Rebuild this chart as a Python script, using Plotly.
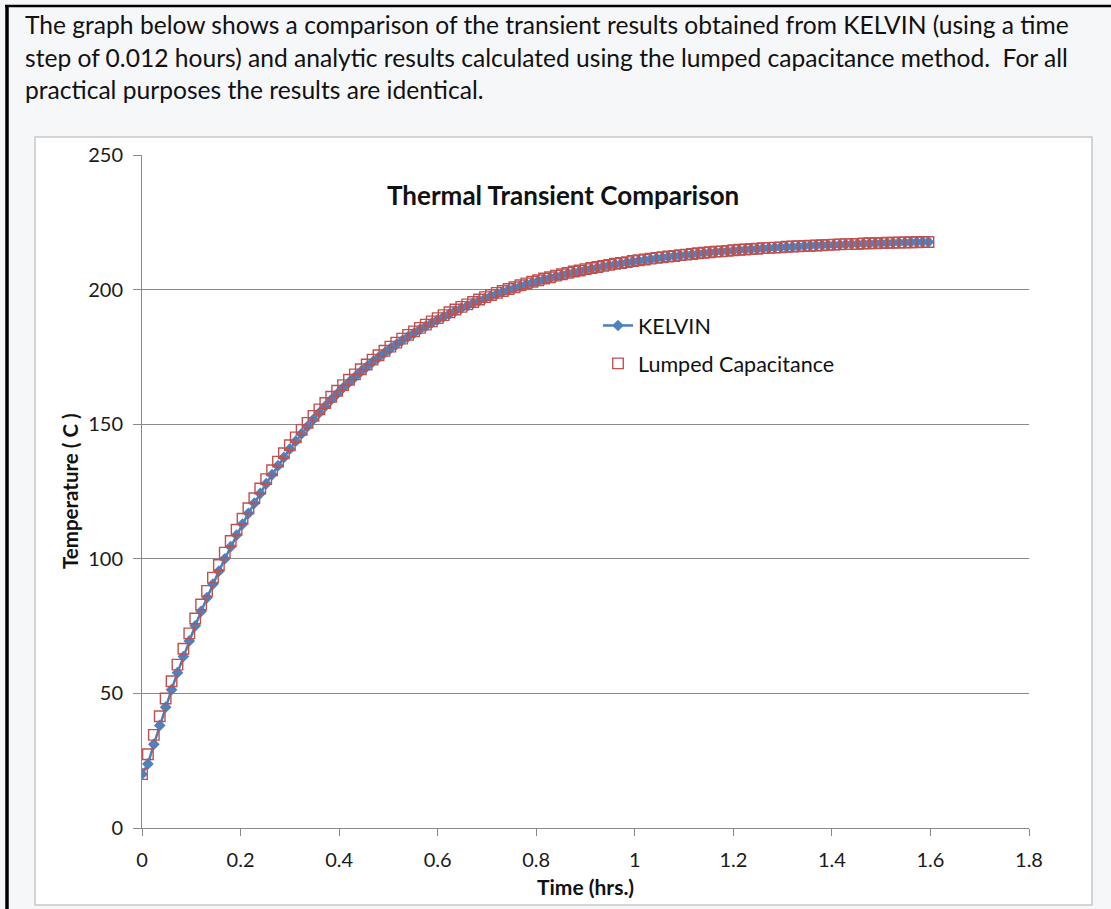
import plotly.graph_objects as go

# ---------------- data ----------------
time_hrs = [
    0.000, 0.012, 0.024, 0.036, 0.048, 0.060, 0.072, 0.084, 0.096, 0.108,
    0.120, 0.132, 0.144, 0.156, 0.168, 0.180, 0.192, 0.204, 0.216, 0.228,
    0.240, 0.252, 0.264, 0.276, 0.288, 0.300, 0.312, 0.324, 0.336, 0.348,
    0.360, 0.372, 0.384, 0.396, 0.408, 0.420, 0.432, 0.444, 0.456, 0.468,
    0.480, 0.492, 0.504, 0.516, 0.528, 0.540, 0.552, 0.564, 0.576, 0.588,
    0.600, 0.612, 0.624, 0.636, 0.648, 0.660, 0.672, 0.684, 0.696, 0.708,
    0.720, 0.732, 0.744, 0.756, 0.768, 0.780, 0.792, 0.804, 0.816, 0.828,
    0.840, 0.852, 0.864, 0.876, 0.888, 0.900, 0.912, 0.924, 0.936, 0.948,
    0.960, 0.972, 0.984, 0.996, 1.008, 1.020, 1.032, 1.044, 1.056, 1.068,
    1.080, 1.092, 1.104, 1.116, 1.128, 1.140, 1.152, 1.164, 1.176, 1.188,
    1.200, 1.212, 1.224, 1.236, 1.248, 1.260, 1.272, 1.284, 1.296, 1.308,
    1.320, 1.332, 1.344, 1.356, 1.368, 1.380, 1.392, 1.404, 1.416, 1.428,
    1.440, 1.452, 1.464, 1.476, 1.488, 1.500, 1.512, 1.524, 1.536, 1.548,
    1.560, 1.572, 1.584, 1.596,
]

kelvin_temp = [
    20.0, 23.8, 31.1, 38.1, 44.9, 51.4, 57.7, 63.7, 69.5, 75.1,
    80.5, 85.6, 90.6, 95.4, 100.0, 104.5, 108.8, 112.9, 116.9, 120.7,
    124.3, 127.9, 131.3, 134.6, 137.7, 140.8, 143.7, 146.5, 149.2, 151.8,
    154.3, 156.7, 159.1, 161.3, 163.5, 165.5, 167.5, 169.5, 171.3, 173.1,
    174.8, 176.5, 178.1, 179.6, 181.1, 182.5, 183.8, 185.2, 186.4, 187.6,
    188.8, 189.9, 191.0, 192.1, 193.1, 194.0, 195.0, 195.9, 196.7, 197.6,
    198.4, 199.2, 199.9, 200.6, 201.3, 202.0, 202.6, 203.2, 203.8, 204.4,
    204.9, 205.4, 206.0, 206.4, 206.9, 207.4, 207.8, 208.2, 208.6, 209.0,
    209.4, 209.7, 210.1, 210.4, 210.7, 211.0, 211.3, 211.6, 211.9, 212.2,
    212.4, 212.7, 212.9, 213.1, 213.4, 213.6, 213.8, 214.0, 214.2, 214.3,
    214.5, 214.7, 214.8, 215.0, 215.1, 215.3, 215.4, 215.6, 215.7, 215.8,
    215.9, 216.0, 216.2, 216.3, 216.4, 216.5, 216.6, 216.6, 216.7, 216.8,
    216.9, 217.0, 217.1, 217.1, 217.2, 217.3, 217.3, 217.4, 217.5, 217.5,
    217.6, 217.6, 217.7, 217.7,
]

lumped_temp = [
    20.0, 27.4, 34.6, 41.5, 48.1, 54.5, 60.7, 66.6, 72.3, 77.8,
    83.0, 88.1, 93.0, 97.7, 102.3, 106.6, 110.8, 114.9, 118.8, 122.5,
    126.1, 129.6, 132.9, 136.1, 139.2, 142.2, 145.1, 147.9, 150.5, 153.1,
    155.5, 157.9, 160.2, 162.4, 164.5, 166.5, 168.5, 170.4, 172.2, 174.0,
    175.6, 177.3, 178.8, 180.3, 181.8, 183.2, 184.5, 185.8, 187.0, 188.2,
    189.4, 190.5, 191.6, 192.6, 193.6, 194.5, 195.4, 196.3, 197.2, 198.0,
    198.8, 199.5, 200.2, 200.9, 201.6, 202.3, 202.9, 203.5, 204.1, 204.6,
    205.2, 205.7, 206.2, 206.7, 207.1, 207.6, 208.0, 208.4, 208.8, 209.2,
    209.6, 209.9, 210.2, 210.6, 210.9, 211.2, 211.5, 211.8, 212.0, 212.3,
    212.5, 212.8, 213.0, 213.2, 213.5, 213.7, 213.9, 214.1, 214.2, 214.4,
    214.6, 214.8, 214.9, 215.1, 215.2, 215.4, 215.5, 215.6, 215.7, 215.9,
    216.0, 216.1, 216.2, 216.3, 216.4, 216.5, 216.6, 216.7, 216.8, 216.9,
    216.9, 217.0, 217.1, 217.2, 217.2, 217.3, 217.4, 217.4, 217.5, 217.5,
    217.6, 217.6, 217.7, 217.7,
]

x_ticks = [0, 0.2, 0.4, 0.6, 0.8, 1.0, 1.2, 1.4, 1.6, 1.8]
x_tick_labels = ["0", "0.2", "0.4", "0.6", "0.8", "1", "1.2", "1.4", "1.6", "1.8"]
y_ticks = [0, 50, 100, 150, 200, 250]
y_tick_labels = ["0", "50", "100", "150", "200", "250"]

intro_lines = [
    "The graph below shows a comparison of the transient results obtained from KELVIN (using a time",
    "step of 0.012 hours) and analytic results calculated using the lumped capacitance method.  For all",
    "practical purposes the results are identical.",
]
chart_title = "Thermal Transient Comparison"
x_title = "Time (hrs.)"
y_title = "Temperature ( C )"

# ---------------- layout geometry (pixels) ----------------
W, H = 1111, 909
PL, PR, PT, PB = 142, 1029, 155, 828  # plot area edges


def px(xp):
    return (xp - PL) / (PR - PL)


def py(yp):
    return (PB - yp) / (PB - PT)


FONT = "Lato, 'Open Sans', sans-serif"
AXIS_GRAY = "#898989"

fig = go.Figure()

fig.add_trace(go.Scatter(
    x=time_hrs, y=kelvin_temp, name="KELVIN", mode="lines+markers",
    line=dict(color="#4a7ebb", width=2.5),
    marker=dict(symbol="diamond", size=9, color="#4f81bd"),
    legendgroup="k",
))
fig.add_trace(go.Scatter(
    x=time_hrs, y=lumped_temp, name="Lumped Capacitance", mode="markers",
    marker=dict(symbol="square-open", size=10.5, color="#c0504d",
                line=dict(color="#c0504d", width=1.4)),
    legendgroup="l",
))

shapes = [
    # white chart box with light gray border
    dict(type="rect", xref="paper", yref="paper",
         x0=px(35), x1=px(1092), y0=py(905), y1=py(137),
         fillcolor="white", line=dict(color="#c8c8c8", width=1.5), layer="below"),
    # outer black frame (top and left)
    dict(type="line", xref="paper", yref="paper",
         x0=px(5), x1=px(1111), y0=py(6), y1=py(6),
         line=dict(color="black", width=2.5)),
    dict(type="line", xref="paper", yref="paper",
         x0=px(7), x1=px(7), y0=py(5), y1=py(909),
         line=dict(color="black", width=3.5)),
]

annotations = []
for line, yc in zip(intro_lines, [24, 57, 90]):
    annotations.append(dict(
        text=line, xref="paper", yref="paper", x=px(23), y=py(yc),
        xanchor="left", yanchor="middle", showarrow=False,
        font=dict(family=FONT, size=24.6, color="#111111"),
    ))
annotations.append(dict(
    text="<b>" + chart_title + "</b>", xref="paper", yref="paper",
    x=px(563), y=py(195), xanchor="center", yanchor="middle", showarrow=False,
    font=dict(family=FONT, size=26, color="#111111"),
))
annotations.append(dict(
    text="<b>" + x_title + "</b>", xref="paper", yref="paper",
    x=px(585), y=py(886), xanchor="center", yanchor="middle", showarrow=False,
    font=dict(family=FONT, size=21, color="#111111"),
))
annotations.append(dict(
    text="<b>" + y_title + "</b>", xref="paper", yref="paper",
    x=px(70), y=py(491), xanchor="center", yanchor="middle", showarrow=False,
    textangle=-90, font=dict(family=FONT, size=20.5, color="#111111"),
))

fig.update_layout(
    width=W, height=H, autosize=False,
    margin=dict(l=PL, r=W - PR, t=PT, b=H - PB, pad=0),
    paper_bgcolor="#f6f7f9", plot_bgcolor="white",
    showlegend=True,
    legend=dict(
        x=px(598), y=py(305), xanchor="left", yanchor="top",
        bgcolor="rgba(0,0,0,0)", font=dict(family=FONT, size=21.5, color="#111111"),
        traceorder="grouped", tracegroupgap=7, itemwidth=30,
    ),
    shapes=shapes, annotations=annotations,
    xaxis=dict(
        range=[0, 1.8], tickvals=x_ticks, ticktext=x_tick_labels,
        showgrid=False, zeroline=False, showline=True, linecolor=AXIS_GRAY, linewidth=1,
        ticks="outside", ticklen=7, tickcolor=AXIS_GRAY, tickwidth=1,
        tickfont=dict(family=FONT, size=20, color="#1a1a1a"), ticklabelstandoff=7,
    ),
    yaxis=dict(
        range=[0, 250], tickvals=y_ticks, ticktext=y_tick_labels,
        showgrid=True, gridcolor=AXIS_GRAY, gridwidth=1,
        zeroline=False, showline=True, linecolor=AXIS_GRAY, linewidth=1,
        ticks="outside", ticklen=8, tickcolor=AXIS_GRAY, tickwidth=1,
        tickfont=dict(family=FONT, size=20, color="#1a1a1a"), ticklabelstandoff=6,
    ),
)

fig.write_html(
    "out.html",
    config={"displayModeBar": False},
    post_script="document.body.style.margin='0';document.body.style.overflow='hidden';",
)
